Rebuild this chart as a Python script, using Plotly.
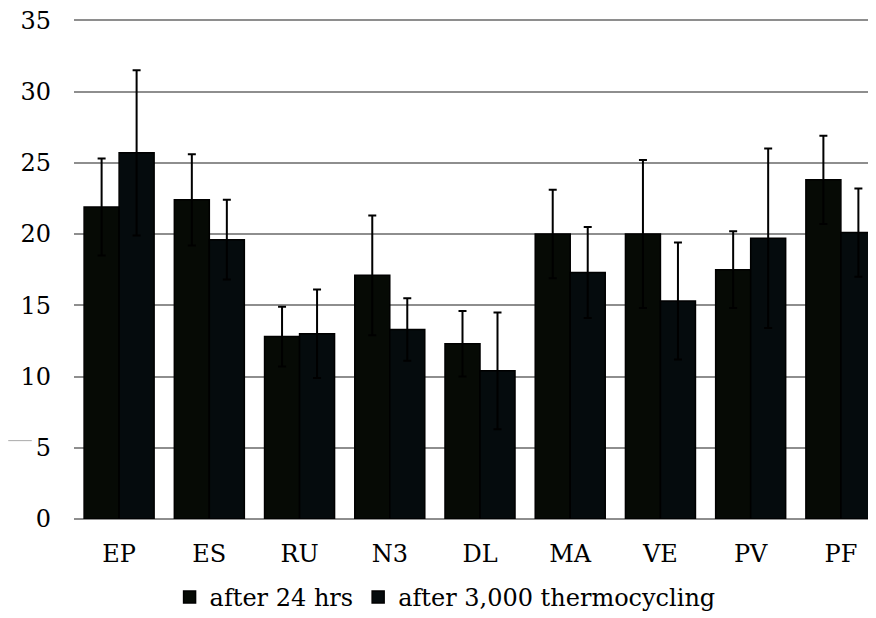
import plotly.graph_objects as go

# materials and mean values
materials = ["EP", "ES", "RU", "N3", "DL", "MA", "VE", "PV", "PF"]
after_24h = [21.9, 22.4, 12.8, 17.1, 12.3, 20.0, 20.0, 17.5, 23.8]
after_24h_sd = [3.4, 3.2, 2.1, 4.2, 2.3, 3.1, 5.2, 2.7, 3.1]
after_tc = [25.7, 19.6, 13.0, 13.3, 10.4, 17.3, 15.3, 19.7, 20.1]
after_tc_sd = [5.8, 2.8, 3.1, 2.2, 4.1, 3.2, 4.1, 6.3, 3.1]
y_ticks = [0, 5, 10, 15, 20, 25, 30, 35]

FONT = "DejaVu Serif, serif"
TXT = dict(family=FONT, size=24, color="#000000")

fig = go.Figure()
fig.add_trace(go.Bar(
    x=materials, y=after_24h, name="after 24 hrs",
    marker=dict(color="#060a05", line=dict(color="#000000", width=1.5)),
    error_y=dict(type="data", array=after_24h_sd, color="#000000", thickness=2, width=4),
))
fig.add_trace(go.Bar(
    x=materials, y=after_tc, name="after 3,000 thermocycling",
    marker=dict(color="#050b0d", line=dict(color="#000000", width=1.5)),
    error_y=dict(type="data", array=after_tc_sd, color="#000000", thickness=2, width=4),
))

# faint stray stroke left of the "5" label in the original
fig.add_shape(type="line", xref="paper", yref="y", x0=-0.081, x1=-0.052, y0=5.5, y1=5.5,
              line=dict(color="#aaaaaa", width=1))

fig.update_layout(
    width=878, height=618,
    barmode="group", bargap=0.224, bargroupgap=0,
    plot_bgcolor="white", paper_bgcolor="white",
    margin=dict(l=66, r=0, t=8, b=107),
    font=TXT,
    showlegend=True,
    legend=dict(orientation="h", x=0.457, xanchor="center", y=-0.156, yanchor="middle",
                font=TXT, itemwidth=30, traceorder="normal"),
)
fig.update_yaxes(
    range=[0, 35.3], tickvals=y_ticks, showgrid=True, gridcolor="#8e8e8e", gridwidth=2,
    zeroline=True, zerolinecolor="#8e8e8e", zerolinewidth=2,
    showline=False, ticks="", ticklabelstandoff=22, automargin=False,
    ticklabeloverflow="allow", tickfont=TXT,
)
fig.update_xaxes(showgrid=False, showline=False, ticks="", ticklabelstandoff=18,
                 automargin=False, tickfont=TXT)

fig.write_html("out.html")
